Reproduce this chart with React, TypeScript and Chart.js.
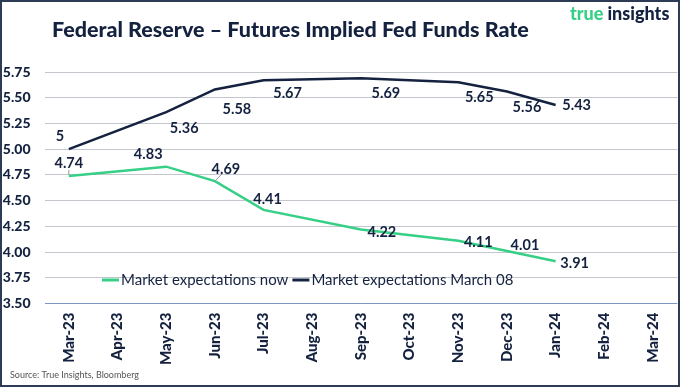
import React, { useEffect, useRef } from "react";
import { Chart, registerables } from "chart.js";

Chart.register(...registerables);

const months = [
  "Mar-23", "Apr-23", "May-23", "Jun-23", "Jul-23", "Aug-23", "Sep-23",
  "Oct-23", "Nov-23", "Dec-23", "Jan-24", "Feb-24", "Mar-24",
];
const nowValues = [4.74, null, 4.83, 4.69, 4.41, null, 4.22, null, 4.11, 4.01, 3.91, null, null];
const march08Values = [5, null, 5.36, 5.58, 5.67, null, 5.69, null, 5.65, 5.56, 5.43, null, null];
const seriesNames = ["Market expectations now", "Market expectations March 08"];
const yMin = 3.5;
const yMax = 5.75;
const yStep = 0.25;

// label offsets (style only) [dx, dy] relative to the point
const nowLabelOffsets = [[0, -13], null, [-18, -12], [11, -12], [4, -11], null, [21, 3], null, [20, 2], [18, -6], [19, 2], null, null];
const march08LabelOffsets = [[-9, -13], null, [18, 16], [22, 20], [24, 13], null, [25, 15], null, [21, 15], [20, 16], [21, 0], null, null];
const nowLeaders = [true, false, false, true, false, false, false, false, false, false, false, false, false];

const NAVY = "#142240";
const GREEN = "#35cf86";
const FONT = "Lato, 'Open Sans', sans-serif";

const decorPlugin = {
  id: "decor",
  afterDatasetsDraw(chart: any) {
    const ctx = chart.ctx;
    ctx.save();
    const offsetsList = [nowLabelOffsets, march08LabelOffsets];
    chart.data.datasets.forEach((ds: any, di: number) => {
      const meta = chart.getDatasetMeta(di);
      meta.data.forEach((pt: any, i: number) => {
        const v = ds.data[i];
        if (v === null || v === undefined) return;
        const off = offsetsList[di][i] || [0, -12];
        const lx = pt.x + off[0];
        const ly = pt.y + off[1];
        if (di === 0 && nowLeaders[i]) {
          ctx.strokeStyle = "#9a9a9a";
          ctx.lineWidth = 1;
          ctx.beginPath();
          if (off[0] === 0) {
            ctx.moveTo(pt.x, pt.y - 1);
            ctx.lineTo(lx, ly + 7);
          } else {
            ctx.moveTo(pt.x, pt.y);
            ctx.lineTo(lx - 4, ly + 5);
          }
          ctx.stroke();
        }
        ctx.font = `bold 14.5px ${FONT}`;
        ctx.fillStyle = NAVY;
        ctx.textAlign = "center";
        ctx.textBaseline = "middle";
        ctx.fillText(String(v), lx, ly);
      });
    });
    ctx.restore();
  },
  afterDraw(chart: any) {
    const ctx = chart.ctx;
    ctx.save();
    // legend
    let x = 102;
    const y = 280;
    ctx.font = `15px ${FONT}`;
    ctx.textBaseline = "middle";
    ctx.textAlign = "left";
    chart.data.datasets.forEach((ds: any) => {
      ctx.strokeStyle = ds.borderColor;
      ctx.lineWidth = 3;
      ctx.beginPath();
      ctx.moveTo(x, y);
      ctx.lineTo(x + 17, y);
      ctx.stroke();
      x += 19;
      ctx.fillStyle = NAVY;
      ctx.fillText(ds.label, x, y);
      x += ctx.measureText(ds.label).width + 4;
    });
    // title
    ctx.font = `900 21.5px ${FONT}`;
    ctx.fillStyle = NAVY;
    ctx.fillText("Federal Reserve – Futures Implied Fed Funds Rate", 52, 30);
    // logo
    ctx.font = `900 18px ${FONT}`;
    ctx.fillStyle = GREEN;
    ctx.fillText("true", 570, 14);
    const w = ctx.measureText("true").width + 4;
    ctx.fillStyle = NAVY;
    ctx.fillText("insights", 570 + w, 14);
    // source
    ctx.font = `9px ${FONT}`;
    ctx.fillStyle = "#555555";
    ctx.fillText("Source: True Insights, Bloomberg", 10, 375);
    // border
    ctx.strokeStyle = "#2d3b55";
    ctx.lineWidth = 2;
    ctx.strokeRect(1, 1, chart.width - 2, chart.height - 2);
    ctx.restore();
  },
};

export default function App() {
  const ref = useRef<HTMLCanvasElement>(null);
  useEffect(() => {
    document.body.style.margin = "0";
    const canvas = ref.current!;
    const chart = new Chart(canvas, {
      type: "line",
      data: {
        labels: months,
        datasets: [
          {
            label: seriesNames[0],
            data: nowValues,
            borderColor: GREEN,
            backgroundColor: GREEN,
            borderWidth: 2.5,
            pointRadius: 0,
            spanGaps: true,
            tension: 0,
          },
          {
            label: seriesNames[1],
            data: march08Values,
            borderColor: NAVY,
            backgroundColor: NAVY,
            borderWidth: 2.5,
            pointRadius: 0,
            spanGaps: true,
            tension: 0,
          },
        ],
      },
      options: {
        responsive: false,
        animation: false,
        devicePixelRatio: 1,
        layout: { padding: { top: 72, left: 0, right: 0, bottom: 0 } },
        plugins: { legend: { display: false }, tooltip: { enabled: false }, title: { display: false } },
        scales: {
          x: {
            type: "category",
            offset: true,
            grid: { display: false, drawTicks: false },
            border: { display: false },
            ticks: {
              minRotation: 90,
              maxRotation: 90,
              autoSkip: false,
              padding: 9,
              color: NAVY,
              font: { family: FONT, size: 15, weight: "900" },
            },
            afterFit(scale: any) {
              scale.height = 83.5;
            },
          },
          y: {
            min: yMin,
            max: yMax,
            grid: {
              drawTicks: false,
              lineWidth: 1,
              color: (c: any) => (c.tick && Math.abs(c.tick.value - yMin) < 1e-6 ? "#7f96c2" : "#c3c6cc"),
            },
            border: { display: false },
            ticks: {
              stepSize: yStep,
              padding: 14,
              color: NAVY,
              font: { family: FONT, size: 14, weight: "900" },
              callback: (v: any) => Number(v).toFixed(2),
            },
            afterFit(scale: any) {
              scale.width = 44.5;
            },
          },
        },
      },
      plugins: [decorPlugin],
    });
    return () => chart.destroy();
  }, []);
  return (
    <div style={{ width: 680, height: 387 }}>
      <canvas ref={ref} width={680} height={387} style={{ display: "block" }} />
    </div>
  );
}
